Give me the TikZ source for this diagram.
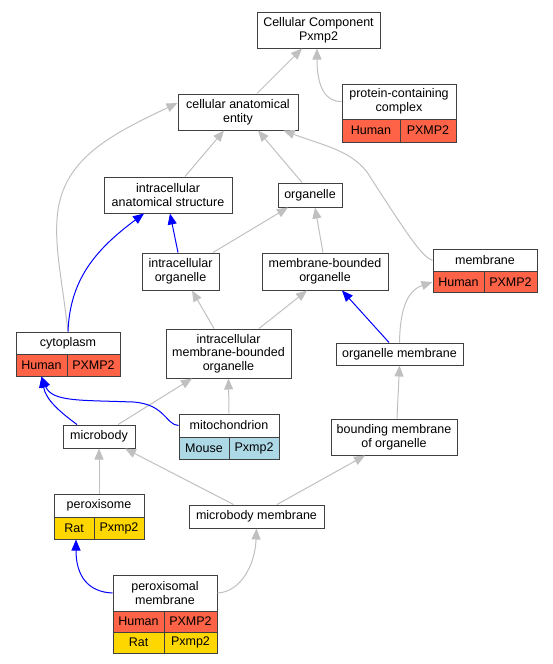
\documentclass[tikz,border=0pt]{standalone}
\usepackage{fontspec}
\setmainfont{Liberation Sans}
\usetikzlibrary{arrows.meta}
\definecolor{humanred}{HTML}{FF6347}
\definecolor{ratgold}{HTML}{FFD700}
\definecolor{mouseblue}{HTML}{ADD8E6}
\definecolor{isagray}{HTML}{C0C0C0}
\definecolor{boxline}{HTML}{404040}

\begin{document}
\begin{tikzpicture}[x=1pt, y=-1pt, >={Triangle[length=11pt,width=9pt]},
               term/.style ={rectangle, draw=boxline, line width=1pt, fill=white, inner sep=0pt,
               align=center, font=\fontsize{12.5}{13.6}\selectfont},
               human/.style ={term, fill=humanred},
               rat/.style ={term, fill=ratgold},
               mouse/.style ={term, fill=mouseblue},
               isa/.style ={->, draw=isagray, line width=1pt},
               hit/.style ={->, draw=blue, line width=1pt}]

           \useasboundingbox (0,0) rectangle (553,664);

           %terminos (centro, ancho, alto en px)
           \node[term, minimum width=123, minimum height=36] (cc) at (318.5,30) {Cellular Component\\Pxmp2};
           \node[term, minimum width=120, minimum height=36] (cae) at (238,112) {cellular anatomical\\entity};

           \node[term, minimum width=114, minimum height=35] (pcc) at (399,101.5) {protein-containing\\complex};
           \node[human, minimum width=58, minimum height=23] (pccH) at (371,130.5) {Human};
           \node[human, minimum width=56, minimum height=23] (pccP) at (428,130.5) {PXMP2};

           \node[term, minimum width=128, minimum height=36] (ias) at (168,195) {intracellular\\anatomical structure};
           \node[term, minimum width=64, minimum height=24] (org) at (310,195) {organelle};

           \node[term, minimum width=77, minimum height=37] (io) at (180.5,271.5) {intracellular\\organelle};
           \node[term, minimum width=126, minimum height=37] (mbo) at (325,271.5) {membrane-bounded\\organelle};

           \node[term, minimum width=104, minimum height=23] (mem) at (485,260.5) {membrane};
           \node[human, minimum width=51, minimum height=21] (memH) at (458.5,282) {Human};
           \node[human, minimum width=53, minimum height=21] (memP) at (510.5,282) {PXMP2};

           \node[term, minimum width=104, minimum height=22] (cyto) at (68,343) {cytoplasm};
           \node[human, minimum width=51, minimum height=22] (cytoH) at (41.5,365) {Human};
           \node[human, minimum width=53, minimum height=22] (cytoP) at (93.5,365) {PXMP2};

           \node[term, minimum width=125, minimum height=49] (imbo) at (228.5,353.5) {intracellular\\membrane-bounded\\organelle};
           \node[term, minimum width=127, minimum height=22] (om) at (399.5,354) {organelle membrane};

           \node[term, minimum width=100, minimum height=23] (mito) at (229,425.5) {mitochondrion};
           \node[mouse, minimum width=50, minimum height=22] (mitoM) at (204,448) {Mouse};
           \node[mouse, minimum width=50, minimum height=22] (mitoP) at (254,448) {Pxmp2};

           \node[term, minimum width=72, minimum height=23] (mb) at (99,436.5) {microbody};
           \node[term, minimum width=126, minimum height=36] (bmo) at (394,437) {bounding membrane\\of organelle};

           \node[term, minimum width=90, minimum height=23] (perox) at (99,505.5) {peroxisome};
           \node[rat, minimum width=40, minimum height=22] (peroxR) at (74,528) {Rat};
           \node[rat, minimum width=50, minimum height=22] (peroxP) at (119,528) {Pxmp2};

           \node[term, minimum width=135, minimum height=23] (mm) at (256.5,516.5) {microbody membrane};

           \node[term, minimum width=104, minimum height=36] (pm) at (165,593) {peroxisomal\\membrane};
           \node[human, minimum width=51, minimum height=21] (pmH) at (138.5,621.5) {Human};
           \node[human, minimum width=53, minimum height=21] (pmP) at (190.5,621.5) {PXMP2};
           \node[rat, minimum width=51, minimum height=21] (pmR) at (138.5,642.5) {Rat};
           \node[rat, minimum width=53, minimum height=21] (pmX) at (190.5,642.5) {Pxmp2};

           %relaciones is_a (gris)
           \path ([xshift=19]cae.north) edge[isa] ([xshift=-16.5]cc.south);
           \draw[isa] (pcc.west) .. controls (326,102) and (317,88) .. ([xshift=-1.5]cc.south);
           \path ([xshift=17]ias.north) edge[isa] ([xshift=-14]cae.south);
           \path ([xshift=-8]org.north) edge[isa] ([xshift=20]cae.south);
           \draw[isa] (cyto.north) .. controls (62,280) and (55,250) .. (57,220)
                                   .. controls (60,160) and (110,135) .. ([yshift=9]cae.west);
           \draw[isa] (mem.west) .. controls (422,256) and (412,242) .. (367,172)
                                 .. controls (350,150) and (322,145) .. ([xshift=-15]cae.south east);
           \path ([xshift=32.5]io.north) edge[isa] ([xshift=-22]org.south);
           \path ([xshift=-2]mbo.north) edge[isa] ([xshift=5]org.south);
           \path ([xshift=-14.5]imbo.north) edge[isa] ([xshift=11.5]io.south);
           \path ([xshift=30.5]imbo.north) edge[isa] ([xshift=-18]mbo.south);
           \draw[isa] (om.north) .. controls (400,312) and (406,291) .. (memH.west);
           \path (mito.north) edge[isa] (imbo.south);
           \path ([xshift=19]mb.north) edge[isa] ([xshift=-36.5]imbo.south);
           \path ([xshift=3]bmo.north) edge[isa] (om.south);
           \path (perox.north) edge[isa] (mb.south);
           \path ([xshift=-23]mm.north) edge[isa] ([xshift=26]mb.south);
           \path ([xshift=20.5]mm.north) edge[isa] ([xshift=-29]bmo.south);
           \draw[isa] (pm.east) .. controls (240,592) and (255,566) .. (mm.south);

           %relaciones con la proteina (azul)
           \draw[hit] (cyto.north) .. controls (70,280) and (95,250) .. ([xshift=-24]ias.south);
           \path ([xshift=-2.5]io.north) edge[hit] ([xshift=2]ias.south);
           \path ([xshift=-10.5]om.north) edge[hit] ([xshift=17]mbo.south);
           \draw[hit] ([xshift=-22]mb.north) .. controls (60,412) and (46,400) .. (cytoH.south);
           \draw[hit] (mito.west) .. controls (166,425) and (165,404) .. (133,402)
                                  .. controls (80,400) and (52,402) .. (cytoH.south);
           \draw[hit] (pm.west) .. controls (88,592) and (76,576) .. ([xshift=2]peroxR.south);

       \end{tikzpicture}
\end{document}
